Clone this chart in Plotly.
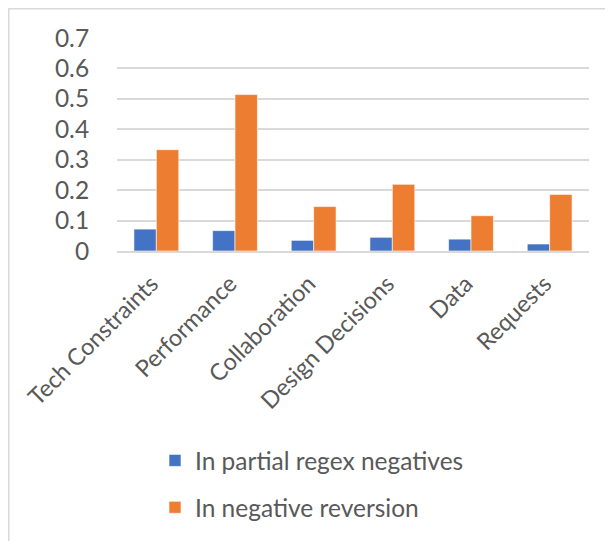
import plotly.graph_objects as go

categories = ["Tech Constraints", "Performance", "Collaboration", "Design Decisions", "Data", "Requests"]
partial_regex_negatives = [0.072, 0.067, 0.035, 0.045, 0.039, 0.023]
negative_reversion = [0.333, 0.514, 0.146, 0.219, 0.116, 0.186]
y_ticks = [0, 0.1, 0.2, 0.3, 0.4, 0.5, 0.6, 0.7]
y_tick_labels = ["0", "0.1", "0.2", "0.3", "0.4", "0.5", "0.6", "0.7"]

# page has an 8px body margin; work in page coordinates, shift by OFF
OFF = 8
W, H = 613 - OFF, 541 - OFF
L, T = 117 - OFF, 38 - OFF
pw, ph = 472, 213
R = W - L - pw
B = H - T - ph

FONT = "Lato, 'Noto Sans', sans-serif"
TXT = "#595959"

fig = go.Figure()
fig.add_trace(go.Bar(x=categories, y=partial_regex_negatives, name="In partial regex negatives",
                     marker=dict(color="#4472C4", line=dict(color="#FFFFFF", width=0.6)),
                     legendgroup="a"))
fig.add_trace(go.Bar(x=categories, y=negative_reversion, name="In negative reversion",
                     marker=dict(color="#ED7D31", line=dict(color="#FFFFFF", width=0.6)),
                     legendgroup="b"))

def px_x(p):  # page x -> paper
    return (p - OFF - L) / pw

def px_y(p):  # page y -> paper
    return (H - B - (p - OFF)) / ph

fig.add_shape(type="line", xref="paper", yref="paper",
              x0=px_x(8.5), x1=px_x(640), y0=px_y(8.5), y1=px_y(8.5),
              line=dict(color="#D9D9D9", width=2))
fig.add_shape(type="line", xref="paper", yref="paper",
              x0=px_x(8.5), x1=px_x(8.5), y0=px_y(8.5), y1=px_y(600),
              line=dict(color="#D9D9D9", width=2))

fig.update_layout(
    width=W, height=H,
    margin=dict(l=L, r=R, t=T, b=B, autoexpand=False),
    paper_bgcolor="white", plot_bgcolor="white",
    barmode="group", bargap=0.43, bargroupgap=0,
    font=dict(family=FONT, color=TXT),
    showlegend=True,
    legend=dict(orientation="v", x=px_x(155), xanchor="left", y=px_y(438), yanchor="top",
                font=dict(size=24.5, color=TXT, family=FONT), tracegroupgap=12,
                itemwidth=30, bgcolor="rgba(0,0,0,0)"),
    xaxis=dict(showgrid=False, showline=True, linecolor="#D9D9D9", linewidth=1.5,
               tickangle=-45, tickfont=dict(size=23.5, color=TXT, family=FONT),
               ticks="outside", ticklen=8, tickcolor="rgba(0,0,0,0)",
               ticklabelshift=-5),
    yaxis=dict(range=[0, 0.7], tickvals=y_ticks, ticktext=y_tick_labels,
               showgrid=True, gridcolor="#D9D9D9", gridwidth=1.5, zeroline=False,
               showline=False, tickfont=dict(size=24.5, color=TXT, family=FONT),
               ticks="outside", ticklen=22, tickcolor="rgba(0,0,0,0)"),
)

fig.write_html("out.html")
